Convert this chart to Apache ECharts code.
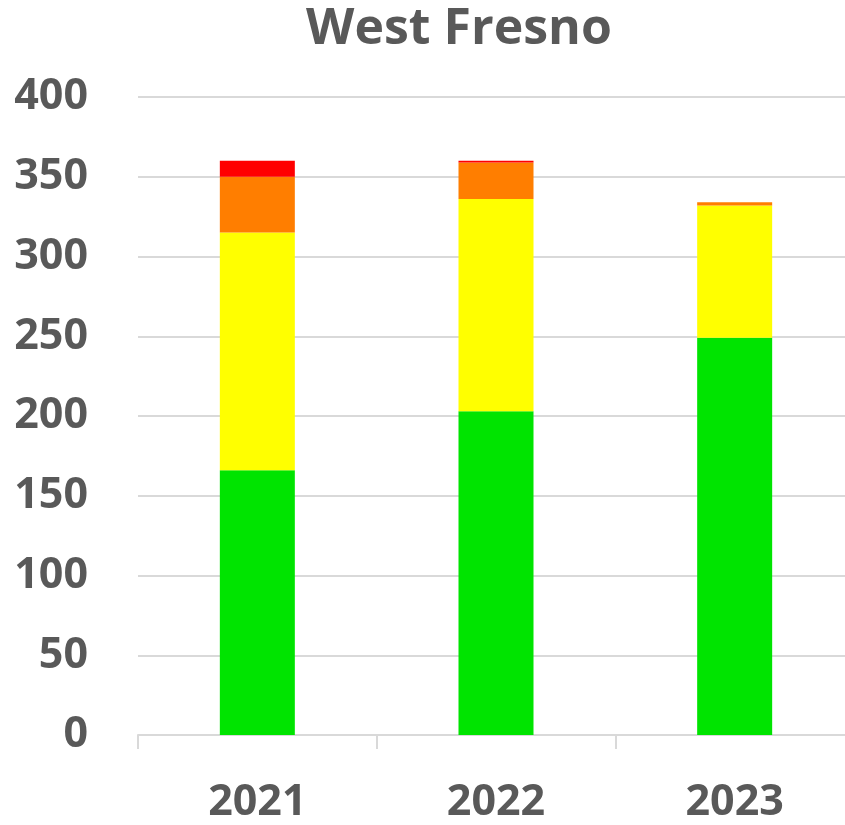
<!DOCTYPE html>
<html>
<head>
<meta charset="utf-8">
<script src="https://cdn.jsdelivr.net/npm/echarts@6/dist/echarts.min.js"></script>
<style>
  html, body { margin: 0; padding: 0; background: #fff; }
  #chart { width: 845px; height: 825px; }
</style>
</head>
<body>
<div id="chart"></div>
<script>
var years = ['2021', '2022', '2023'];
var goodDays = [166, 203, 249];
var moderateDays = [149, 133, 83];
var sensitiveDays = [35, 23, 2];
var unhealthyDays = [10, 1, 0];
var yTicks = [0, 50, 100, 150, 200, 250, 300, 350, 400];

var myChart = echarts.init(document.getElementById('chart'));
var font = '"Open Sans", "Liberation Sans", sans-serif';

function bar(name, data, color) {
    return {
        name: name,
        type: 'bar',
        stack: 'aqi',
        data: data,
        barWidth: 75,
        itemStyle: { color: color },
        animation: false
    };
}

myChart.setOption({
    backgroundColor: '#fff',
    title: {
        text: 'West Fresno',
        left: 454,
        textAlign: 'center',
        top: 0,
        textStyle: { fontFamily: font, fontSize: 50, fontWeight: 'bold', color: '#595959' }
    },
    grid: { left: 138, top: 97, width: 716, bottom: 90, outerBoundsMode: 'none', containLabel: false },
    xAxis: {
        type: 'category',
        data: years,
        axisLine: { lineStyle: { color: '#d9d9d9', width: 2 } },
        axisTick: { show: true, length: 14, lineStyle: { color: '#d9d9d9', width: 2 } },
        axisLabel: { fontFamily: font, fontSize: 43, fontWeight: 'bold', color: '#595959', margin: 46 }
    },
    yAxis: {
        type: 'value',
        min: yTicks[0],
        max: yTicks[yTicks.length - 1],
        interval: 50,
        axisLine: { show: false },
        axisTick: { show: false },
        splitLine: { lineStyle: { color: '#d9d9d9', width: 2 } },
        axisLabel: { fontFamily: font, fontSize: 43, fontWeight: 'bold', color: '#595959', margin: 50 }
    },
    series: [
        bar('Good', goodDays, '#00e400'),
        bar('Moderate', moderateDays, '#ffff00'),
        bar('Unhealthy for Sensitive Groups', sensitiveDays, '#ff7e00'),
        bar('Unhealthy', unhealthyDays, '#ff0000')
    ]
});
</script>
</body>
</html>
